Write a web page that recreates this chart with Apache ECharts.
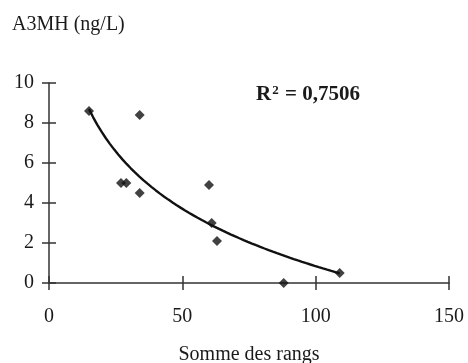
<!DOCTYPE html>
<html>
<head>
<meta charset="utf-8">
<script src="https://cdn.jsdelivr.net/npm/echarts@6/dist/echarts.min.js"></script>
<style>
  html, body { margin: 0; background: #fff; }
  #echarts { width: 468px; height: 363px; }
</style>
</head>
<body>
<div id="echarts"></div>
<script>
// values
const rankSum = [15, 27, 29, 34, 34, 60, 61, 63, 88, 109];
const a3mh = [8.6, 5.0, 5.0, 8.4, 4.5, 4.9, 3.0, 2.1, 0, 0.5];
const xTicks = [0, 50, 100, 150];
const yTicks = [0, 2, 4, 6, 8, 10];
const r2Text = '0,7506';

const ink = '#1a1a1a';
const serif = 'Liberation Serif';

// logarithmic trend line (least squares on ln x), like the spreadsheet one
const lx = rankSum.map(v => Math.log(v));
const mx = lx.reduce((s, v) => s + v, 0) / lx.length;
const my = a3mh.reduce((s, v) => s + v, 0) / a3mh.length;
let sxy = 0, sxx = 0;
lx.forEach((v, i) => { sxy += (v - mx) * (a3mh[i] - my); sxx += (v - mx) * (v - mx); });
const slope = sxy / sxx;
const icpt = my - slope * mx;
const xMin = Math.min(...rankSum), xMax = Math.max(...rankSum);
const trend = [];
for (let k = 0; k <= 60; k++) {
  const x = xMin + (xMax - xMin) * k / 60;
  trend.push([x, icpt + slope * Math.log(x)]);
}

const chart = echarts.init(document.getElementById('echarts'));
const baseX = {
  type: 'value', min: xTicks[0], max: xTicks[xTicks.length - 1], interval: 50,
  position: 'bottom', offset: 0,
  splitLine: { show: false }
};
const baseY = {
  type: 'value', min: yTicks[0], max: yTicks[yTicks.length - 1], interval: 2,
  position: 'left', offset: 0,
  splitLine: { show: false }
};
chart.setOption({
  animation: false,
  textStyle: { fontFamily: serif, color: ink },
  title: [
    {
      text: 'A3MH (ng/L)', left: 7, top: 10,
      textStyle: { fontFamily: serif, fontSize: 20, fontWeight: 'normal', color: ink }
    },
    {
      text: '{b|R}{s|2}{b| = ' + r2Text + '}', left: 251, top: 79,
      textStyle: {
        rich: {
          b: { fontFamily: serif, fontSize: 21, fontWeight: 'bold', color: ink },
          s: { fontFamily: serif, fontSize: 13, fontWeight: 'bold', color: ink, verticalAlign: 'top', padding: [0, 1, 0, 1] }
        }
      }
    }
  ],
  grid: { left: 49, right: 19, top: 83, bottom: 80, outerBoundsMode: 'none' },
  xAxis: [
    Object.assign({}, baseX, {
      name: 'Somme des rangs', nameLocation: 'middle', nameGap: 62,
      nameTextStyle: { fontFamily: serif, fontSize: 20, color: ink },
      axisLine: { onZero: false, lineStyle: { color: '#333', width: 1.5 } },
      axisTick: { length: 7, lineStyle: { color: '#333', width: 1.5 } },
      axisLabel: { fontFamily: serif, fontSize: 20, color: ink, margin: 24 }
    }),
    Object.assign({}, baseX, {
      axisLine: { show: false },
      axisTick: { inside: true, length: 7, lineStyle: { color: '#333', width: 1.5 } },
      axisLabel: { show: false }
    })
  ],
  yAxis: [
    Object.assign({}, baseY, {
      axisLine: { show: true, onZero: false, lineStyle: { color: '#333', width: 1.5 } },
      axisTick: { show: true, length: 7, lineStyle: { color: '#333', width: 1.5 } },
      axisLabel: { fontFamily: serif, fontSize: 20, color: ink, margin: 15 }
    }),
    Object.assign({}, baseY, {
      axisLine: { show: false },
      axisTick: { show: true, inside: true, length: 7, lineStyle: { color: '#333', width: 1.5 } },
      axisLabel: { show: false }
    })
  ],
  series: [
    {
      type: 'line', data: trend, showSymbol: false, smooth: false,
      lineStyle: { color: '#111', width: 2.4 }, z: 3
    },
    {
      type: 'scatter', data: rankSum.map((x, i) => [x, a3mh[i]]),
      symbol: 'diamond', symbolSize: 10,
      itemStyle: { color: '#111' }, z: 4
    }
  ]
});
</script>
</body>
</html>
